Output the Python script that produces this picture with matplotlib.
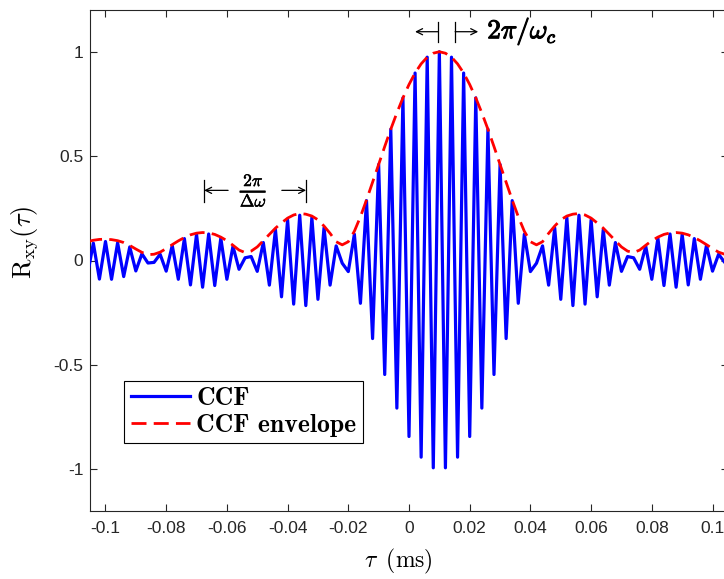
import os
import numpy as np
import matplotlib
matplotlib.use("Agg")
import matplotlib.pyplot as plt
from matplotlib.font_manager import FontProperties
import matplotlib.patheffects as pe

# ---------------------------------------------------------------------------
# Cross-correlation function samples (tau in ms, uniform sampling grid)
tau_start = -0.106
tau_step = 0.002

ccf = [
    -0.075, 0.083, -0.089, 0.091, -0.090, 0.085, -0.077, 0.065, -0.050, 0.032,
    -0.012, -0.009, 0.030, -0.051, 0.072, -0.090, 0.105, -0.117, 0.125, -0.128,
    0.127, -0.120, 0.107, -0.090, 0.068, -0.042, 0.013, 0.019, -0.052, 0.086,
    -0.118, 0.148, -0.174, 0.195, -0.209, 0.217, -0.216, 0.206, -0.186, 0.157,
    -0.118, 0.070, -0.013, -0.053, 0.126, -0.205, 0.287, -0.374, 0.460, -0.546,
    0.629, -0.707, 0.779, -0.843, 0.898, -0.942, 0.974, -0.993, 1.000, -0.993,
    0.974, -0.942, 0.898, -0.843, 0.779, -0.707, 0.629, -0.546, 0.460, -0.374,
    0.287, -0.205, 0.126, -0.053, -0.013, 0.070, -0.118, 0.157, -0.186, 0.206,
    -0.216, 0.217, -0.209, 0.195, -0.174, 0.148, -0.118, 0.086, -0.052, 0.019,
    0.013, -0.042, 0.068, -0.090, 0.107, -0.120, 0.127, -0.128, 0.125, -0.117,
    0.105, -0.090, 0.072, -0.051, 0.030, -0.009, -0.012,
]

# Envelope of the CCF on the same grid
envelope = [
    0.090, 0.097, 0.101, 0.102, 0.100, 0.095, 0.086, 0.072, 0.055, 0.039,
    0.028, 0.030, 0.040, 0.057, 0.076, 0.094, 0.110, 0.123, 0.131, 0.134,
    0.132, 0.125, 0.112, 0.095, 0.073, 0.050, 0.038, 0.045, 0.065, 0.095,
    0.125, 0.155, 0.180, 0.203, 0.218, 0.225, 0.222, 0.213, 0.195, 0.165,
    0.130, 0.090, 0.075, 0.090, 0.140, 0.210, 0.290, 0.375, 0.460, 0.546,
    0.629, 0.707, 0.779, 0.843, 0.898, 0.942, 0.974, 0.993, 1.000, 0.993,
    0.974, 0.942, 0.898, 0.843, 0.779, 0.707, 0.629, 0.546, 0.460, 0.375,
    0.290, 0.210, 0.140, 0.090, 0.075, 0.090, 0.130, 0.165, 0.195, 0.213,
    0.222, 0.225, 0.218, 0.203, 0.180, 0.155, 0.125, 0.095, 0.065, 0.045,
    0.038, 0.050, 0.073, 0.095, 0.112, 0.125, 0.132, 0.134, 0.131, 0.123,
    0.110, 0.094, 0.076, 0.057, 0.040, 0.030, 0.028,
]

x_ticks = [-0.1, -0.08, -0.06, -0.04, -0.02, 0, 0.02, 0.04, 0.06, 0.08, 0.1]
x_tick_labels = ["-0.1", "-0.08", "-0.06", "-0.04", "-0.02", "0",
                 "0.02", "0.04", "0.06", "0.08", "0.1"]
y_ticks = [-1, -0.5, 0, 0.5, 1]
y_tick_labels = ["-1", "-0.5", "0", "0.5", "1"]

tau = tau_start + tau_step * np.arange(len(ccf))

# ---------------------------------------------------------------------------
plt.rcParams["mathtext.fontset"] = "cm"
plt.rcParams["axes.unicode_minus"] = False

cm_bold = FontProperties(
    fname=os.path.join(matplotlib.get_data_path(), "fonts", "ttf", "cmb10.ttf"),
    size=18.5)

fig = plt.figure(figsize=(7.24, 5.79), dpi=100)
W, H = 724, 579
ax = fig.add_axes([90.3 / W, 68 / H, 637.4 / W, 501 / H])

ax.plot(tau, ccf, color=(0, 0, 1), lw=2.3, label="CCF", zorder=3)
ax.plot(tau, envelope, color=(1, 0, 0), lw=2.0, linestyle=(0, (5.4, 2.6)),
        label="CCF envelope", zorder=4)

ax.set_xlim(-0.105, 0.105)
ax.set_ylim(-1.2, 1.2)
ax.set_xticks(x_ticks)
ax.set_xticklabels(x_tick_labels)
ax.set_yticks(y_ticks)
ax.set_yticklabels(y_tick_labels)

tick_col = "#262626"
ax.tick_params(direction="in", length=5, width=0.8, top=True, right=True,
               labelsize=12.5, colors=tick_col, labelcolor=tick_col)
ax.tick_params(axis="x", pad=7)
ax.tick_params(axis="y", pad=5)
for lab in ax.get_xticklabels() + ax.get_yticklabels():
    lab.set_family("Liberation Sans")
for s in ax.spines.values():
    s.set_color(tick_col)
    s.set_linewidth(0.8)

ax.set_xlabel(r"$\tau\;\; \mathrm{(ms)}$", fontsize=17)
ax.xaxis.set_label_coords(0.483, -0.072)
ax.set_ylabel(r"$\mathrm{R_{xy}}(\tau)$", fontsize=19)
ax.yaxis.set_label_coords(-0.078, 0.537)

leg = ax.legend(loc="lower left", bbox_to_anchor=(0.053, 0.135),
                borderaxespad=0, prop=cm_bold, handlelength=2.3,
                handletextpad=0.25, borderpad=0.25, labelspacing=0.15,
                fancybox=False, edgecolor="black", framealpha=1)
leg.get_frame().set_linewidth(0.8)

# Carrier period marker at the top
arrow_kw = dict(arrowstyle="->", lw=0.9, color="black", mutation_scale=11,
                shrinkA=0, shrinkB=0)
bar_y = (1.048, 1.143)
mark_y = 1.096
ax.plot([0.0095, 0.0095], bar_y, color="black", lw=0.9)
ax.plot([0.0152, 0.0152], bar_y, color="black", lw=0.9)
ax.annotate("", xy=(0.0020, mark_y), xytext=(0.0095, mark_y), arrowprops=arrow_kw)
ax.annotate("", xy=(0.0228, mark_y), xytext=(0.0152, mark_y), arrowprops=arrow_kw)
ax.text(0.0258, mark_y, r"$2\pi/\omega_c$", fontsize=19.5, ha="left", va="center",
        path_effects=[pe.withStroke(linewidth=0.8, foreground="black")])

# Envelope period marker on the left side lobes
bar2_y = (0.282, 0.385)
mark2_y = 0.336
ax.plot([-0.0675, -0.0675], bar2_y, color="black", lw=0.9)
ax.plot([-0.0339, -0.0339], bar2_y, color="black", lw=0.9)
ax.annotate("", xy=(-0.0675, mark2_y), xytext=(-0.0596, mark2_y), arrowprops=arrow_kw)
ax.annotate("", xy=(-0.0339, mark2_y), xytext=(-0.0419, mark2_y), arrowprops=arrow_kw)
ax.text(-0.0512, mark2_y, r"$\frac{2\pi}{\Delta\omega}$", fontsize=18,
        ha="center", va="center",
        path_effects=[pe.withStroke(linewidth=0.4, foreground="black")])

fig.savefig("out.png", dpi=100)
